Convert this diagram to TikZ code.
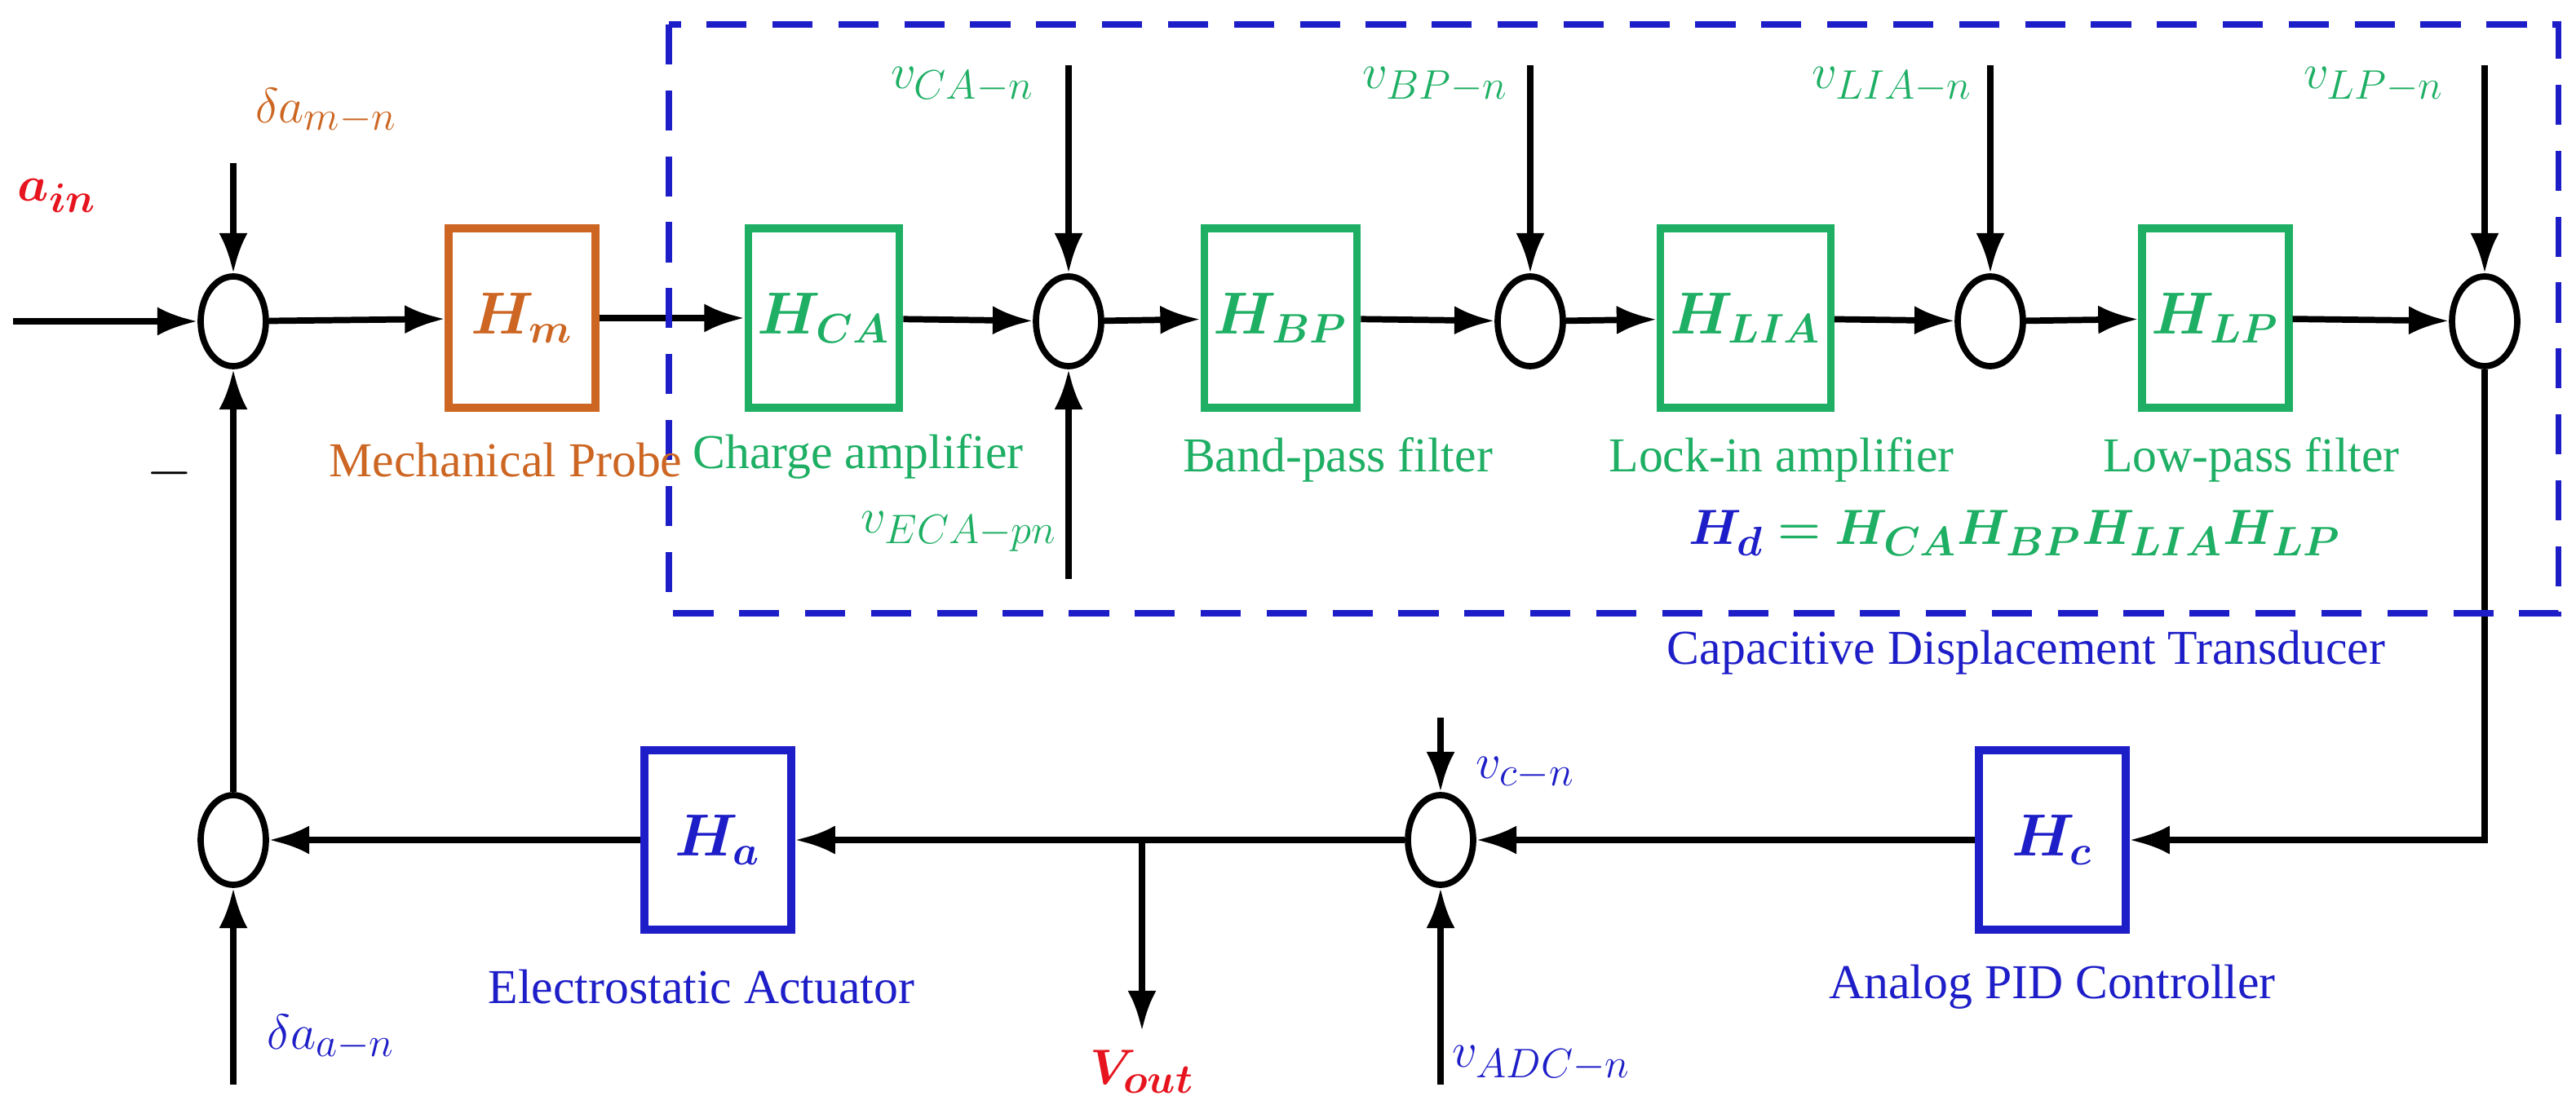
\documentclass[tikz,border=0pt]{standalone}
\usepackage{fontspec}
\usepackage{amsmath,bm}
\setmainfont{Liberation Serif}
\usetikzlibrary{arrows.meta,shapes.geometric}
\definecolor{cor}{RGB}{204,102,34}
\definecolor{cgr}{RGB}{30,175,100}
\definecolor{cbl}{RGB}{30,30,200}
\definecolor{cred}{RGB}{230,20,30}
\begin{document}
\begin{tikzpicture}[x=0.02cm,y=-0.02cm,
  line width=2.2pt,
  >={Latex[length=14pt,width=10pt]},
  sum/.style={ellipse,draw,line width=2.2pt,minimum width=0.8cm,minimum height=1.1cm,inner sep=0pt},
  blk/.style={draw,line width=2.6pt,minimum width=1.8cm,minimum height=2.2cm,font=\fontsize{22}{24}\selectfont},
  lbl/.style={font=\fontsize{17}{20}\selectfont},
  sig/.style={font=\fontsize{19}{22}\selectfont}]
\useasboundingbox (0,0) rectangle (1579,677.5);
% top row
\node[sum] (s1) at (143,197) {};
\node[blk,draw=cor,text=cor] (Hm) at (320,195) {$\bm{H_m}$};
\node[blk,draw=cgr,text=cgr] (Hca) at (505,195) {$\bm{H_{CA}}$};
\node[sum] (s2) at (655,197) {};
\node[blk,draw=cgr,text=cgr] (Hbp) at (785,195) {$\bm{H_{BP}}$};
\node[sum] (s3) at (938,197) {};
\node[blk,draw=cgr,text=cgr] (Hlia) at (1070,195) {$\bm{H_{LIA}}$};
\node[sum] (s4) at (1220,197) {};
\node[blk,draw=cgr,text=cgr] (Hlp) at (1358,195) {$\bm{H_{LP}}$};
\node[sum] (s5) at (1523,197) {};
% bottom row
\node[blk,draw=cbl,text=cbl] (Hc) at (1258,515) {$\bm{H_c}$};
\node[sum] (s6) at (883,515) {};
\node[blk,draw=cbl,text=cbl] (Ha) at (440,515) {$\bm{H_a}$};
\node[sum] (s7) at (143,515) {};
% coordinates
\coordinate (ain) at (8,197);
\coordinate (dm) at (143,100);
\coordinate (ca) at (655,40);
\coordinate (eca) at (655,355);
\coordinate (bp) at (938,40);
\coordinate (lia) at (1220,40);
\coordinate (lp) at (1523,40);
\coordinate (cn) at (883,440);
\coordinate (adc) at (883,665);
\coordinate (br) at (700,515);
\coordinate (vo) at (700,632);
\coordinate (da) at (143,665);
% connectors
\draw[->] (ain) -- (s1);
\draw[->] (dm) -- (s1);
\draw[->] (s1) -- (Hm);
\draw[->] (Hm) -- (Hca);
\draw[->] (Hca) -- (s2);
\draw[->] (ca) -- (s2);
\draw[->] (eca) -- (s2);
\draw[->] (s2) -- (Hbp);
\draw[->] (Hbp) -- (s3);
\draw[->] (bp) -- (s3);
\draw[->] (s3) -- (Hlia);
\draw[->] (Hlia) -- (s4);
\draw[->] (lia) -- (s4);
\draw[->] (s4) -- (Hlp);
\draw[->] (Hlp) -- (s5);
\draw[->] (lp) -- (s5);
\draw[->] (s5.south) |- (Hc.east);
\draw[->] (Hc) -- (s6);
\draw[->] (cn) -- (s6);
\draw[->] (adc) -- (s6);
\draw[->] (s6) -- (Ha);
\draw[->] (br) -- (vo);
\draw[->] (Ha) -- (s7);
\draw[->] (da) -- (s7);
\draw[->] (s7) -- (s1);
% dashed box
\draw[cbl,dashed,line width=2pt,dash pattern=on 14pt off 9pt] (410,15) rectangle (1568,376);
% labels
\node[sig,text=cred] (tain) at (35,120) {$\bm{a_{in}}$};
\node[sig,text=cor] (tdm) at (200,68) {$\delta a_{m-n}$};
\node[font=\fontsize{20}{22}\selectfont] (minus) at (104,290) {$-$};
\node[lbl,text=cor] (tHm) at (310,282) {Mechanical Probe};
\node[lbl,text=cgr] (tca) at (526,280) {Charge amplifier};
\node[lbl,text=cgr] (tbp) at (820,282) {Band-pass filter};
\node[lbl,text=cgr] (tlia) at (1092,282) {Lock-in amplifier};
\node[lbl,text=cgr] (tlp) at (1380,282) {Low-pass filter};
\node[sig,text=cgr] at (590,52) {$v_{CA-n}$};
\node[sig,text=cgr] at (880,52) {$v_{BP-n}$};
\node[sig,text=cgr] at (1160,52) {$v_{LIA-n}$};
\node[sig,text=cgr] at (1455,52) {$v_{LP-n}$};
\node[sig,text=cgr] at (588,326) {$v_{ECA-pn}$};
\node[sig] at (1235,327) {$\color{cbl}\bm{H_d}\color{cgr}\bm{{}=H_{CA}H_{BP}H_{LIA}H_{LP}}$};
\node[lbl,text=cbl] at (1242,400) {Capacitive Displacement Transducer};
\node[lbl,text=cbl] at (1258,605) {Analog PID Controller};
\node[lbl,text=cbl] at (430,605) {Electrostatic Actuator};
\node[sig,text=cbl] at (935,474) {$v_{c-n}$};
\node[sig,text=cbl] at (945,652) {$v_{ADC-n}$};
\node[sig,text=cbl] at (203,636) {$\delta a_{a-n}$};
\node[sig,text=cred] at (700,657) {$\bm{V_{out}}$};
\end{tikzpicture}
\end{document}
